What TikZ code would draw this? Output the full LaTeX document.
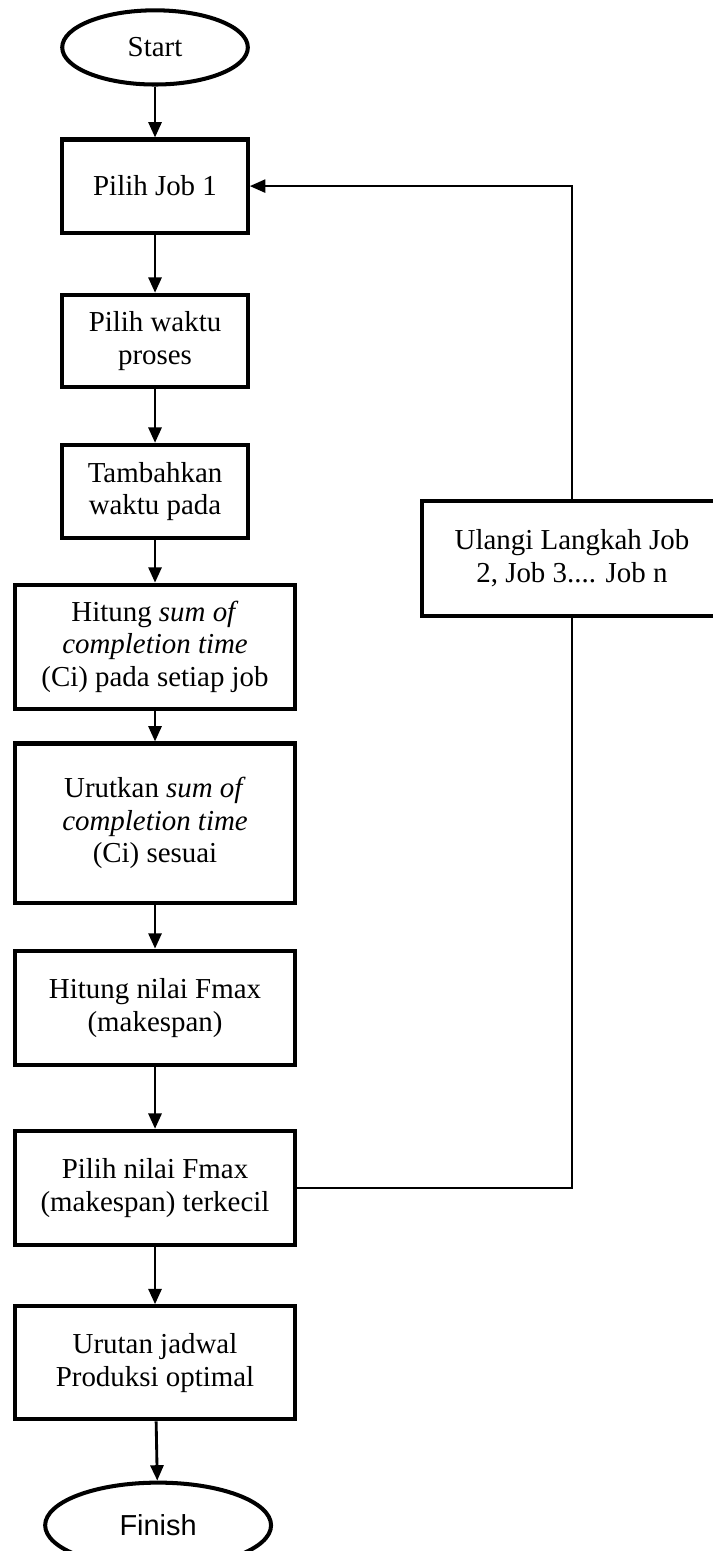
\documentclass[tikz,border=0pt]{standalone}
\usepackage{fontspec}
\setmainfont{Liberation Serif}
\newfontfamily\finishfont{Liberation Sans}
\usetikzlibrary{positioning, shapes.geometric, arrows.meta}

\begin{document}
\begin{tikzpicture}[
terminal/.style={ellipse, draw, line width=1.7pt, minimum width=78.3pt, minimum height=31.3pt, inner sep=1pt, font=\fontsize{12.2}{14}\selectfont},
process/.style={rectangle, draw, line width=1.7pt, minimum width=78.3pt, align=center, inner sep=2pt, font=\fontsize{12.2}{13.8}\selectfont},
wide/.style={process, minimum width=118.3pt},
arrow/.style={-{Triangle[width=5.5pt,length=6.5pt]}, line width=1.2pt},
loopline/.style={line width=0.9pt}
]
\useasboundingbox (-65.4pt,20pt) rectangle (235pt,-634.3pt);

% Main column
\node[terminal] (start) {Start};
\node[process, minimum height=39.3pt, below=21.5pt of start] (job_one) {Pilih Job 1};
\node[process, minimum height=38.8pt, below=24.5pt of job_one] (process_time) {Pilih waktu\\proses};
\node[process, minimum height=39.3pt, below=22.8pt of process_time] (add_time) {Tambahkan\\waktu pada};
\node[wide, minimum height=52.3pt, below=18pt of add_time] (sum_ci) {Hitung \textit{sum of}\\\textit{completion time}\\(Ci) pada setiap job};
\node[wide, minimum height=67.1pt, below=13pt of sum_ci] (sort_ci) {Urutkan \textit{sum of}\\\textit{completion time}\\(Ci) sesuai};
\node[wide, minimum height=48.3pt, below=18.6pt of sort_ci] (fmax) {Hitung nilai Fmax\\(makespan)};
\node[wide, minimum height=48.3pt, below=26pt of fmax] (min_fmax) {Pilih nilai Fmax\\(makespan) terkecil};
\node[wide, minimum height=47.7pt, below=24pt of min_fmax] (schedule) {Urutan jadwal\\Produksi optimal};
\node[terminal, minimum width=95.3pt, minimum height=36pt, below=25pt of schedule, xshift=1.3pt] (finish) {\finishfont Finish};

% Repeat box on the right
\node[process, minimum width=126.6pt, minimum height=48.3pt] (repeat_jobs) at (175.9pt,-215.6pt) {Ulangi Langkah Job\\2, Job 3.... Job n};

% Main flow arrows
\draw[arrow] (start) -- (job_one);
\draw[arrow] (job_one) -- (process_time);
\draw[arrow] (process_time) -- (add_time);
\draw[arrow] (add_time) -- (sum_ci);
\draw[arrow] (sum_ci) -- (sort_ci);
\draw[arrow] (sort_ci) -- (fmax);
\draw[arrow] (fmax) -- (min_fmax);
\draw[arrow] (min_fmax) -- (schedule);
\draw[arrow] (schedule) -- (finish);

% Loop back
\draw[loopline] (min_fmax.east) -| (repeat_jobs.south);
\draw[arrow, line width=0.9pt] (repeat_jobs.north) |- (job_one.east);

\end{tikzpicture}
\end{document}
